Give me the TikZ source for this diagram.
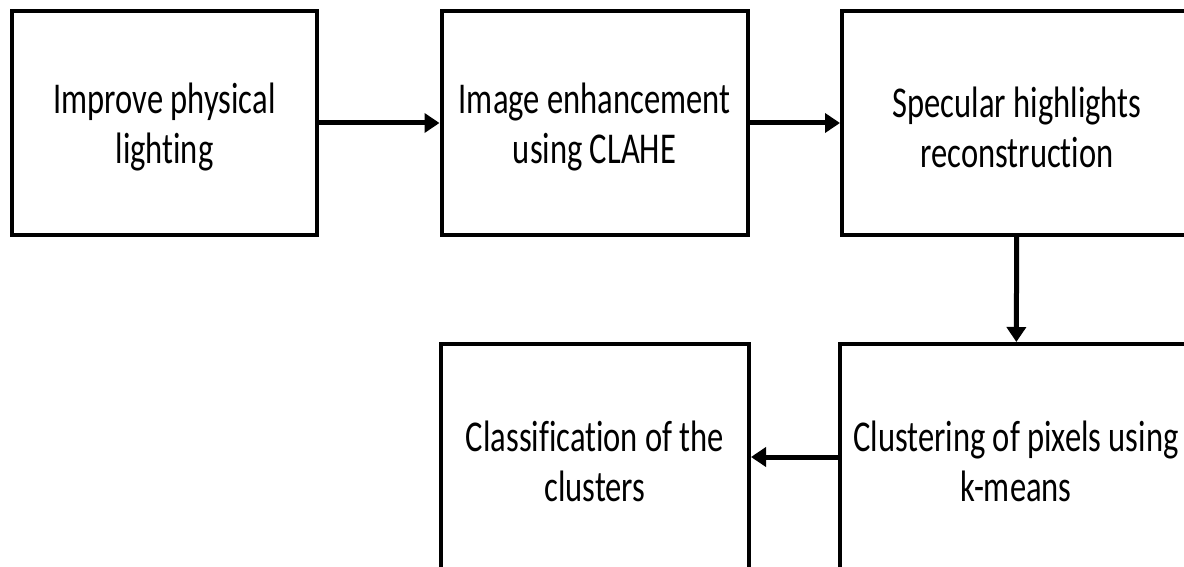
\documentclass[tikz,border=0pt]{standalone}
\usepackage{fontspec}
\newfontfamily\boxfont[FakeStretch=0.74,RawFeature={-liga}]{Carlito}
\usetikzlibrary{arrows.meta}
\tikzset{
  stagebox/.style={draw=black, line width=4pt, inner sep=0pt},
  stagetext/.style={align=center, inner sep=0pt, yshift=-4.5pt,
    font=\boxfont\fontsize{44pt}{50pt}\selectfont},
  flowarrow/.style={line width=5pt, -{Triangle[length=15pt,width=19pt]}}
}
\begin{document}
\begin{tikzpicture}[x=1pt,y=-1pt]
\useasboundingbox (0,0) rectangle (1184,567);
\node[stagebox, minimum width=305pt, minimum height=224pt] (b1) at (164.5,123) {};
\node[stagebox, minimum width=306pt, minimum height=224pt] (b2) at (594.5,123) {};
\node[stagebox, minimum width=350pt, minimum height=224pt] (b3) at (1017,123) {};
\node[stagebox, minimum width=308pt, minimum height=226pt] (b4) at (595,457) {};
\node[stagebox, minimum width=352pt, minimum height=226pt] (b5) at (1016,457) {};
\node[stagetext] (t1) at (b1.center) {Improve physical\\lighting};
\node[stagetext] (t2) at (b2.center) {Image enhancement\\using CLAHE};
\node[stagetext] (t3) at (b3.center) {Specular highlights\\reconstruction};
\node[stagetext] (t4) at (b4.center) {Classification of the\\clusters};
\node[stagetext] (t5) at (b5.center) {Clustering of pixels using\\k-means};
\draw[flowarrow] (b1) -- (b2);
\draw[flowarrow] (b2) -- (b3);
\draw[flowarrow] (b3) -- (b5);
\draw[flowarrow] (b5) -- (b4);
\end{tikzpicture}
\end{document}
